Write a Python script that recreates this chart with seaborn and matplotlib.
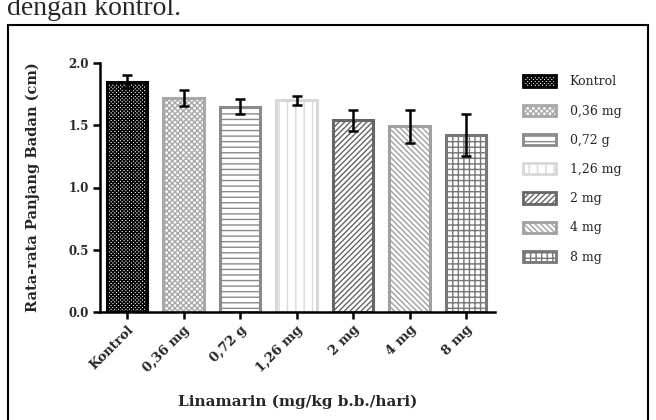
import matplotlib
matplotlib.use("Agg")
import matplotlib.pyplot as plt
from matplotlib.patches import Rectangle, Patch
import seaborn as sns
import pandas as pd

categories = ["Kontrol", "0,36 mg", "0,72 g", "1,26 mg", "2 mg", "4 mg", "8 mg"]
means = [1.85, 1.72, 1.65, 1.70, 1.54, 1.49, 1.42]
errors = [0.05, 0.065, 0.06, 0.035, 0.085, 0.135, 0.17]
y_ticks = [0.0, 0.5, 1.0, 1.5, 2.0]
y_tick_labels = ["0.0", "0.5", "1.0", "1.5", "2.0"]

edge_colors = ["#000000", "#a8a8a8", "#8a8a8a", "#d8d8d8", "#666666", "#a0a0a0", "#777777"]
hatches = ["x" * 9, "x" * 6, "---", "||", "/" * 6, "\\" * 6, "+++"]

sns.set_style("white")
plt.rcParams["font.family"] = ["DejaVu Serif", "Liberation Serif"]
plt.rcParams["hatch.linewidth"] = 1.0

W, H = 656, 420
fig = plt.figure(figsize=(W / 100, H / 100), dpi=100)

# page text above the chart box
fig.text(7 / W, 1 - 15 / H, "dengan kontrol.", fontsize=20, va="baseline", ha="left",
         family=["Liberation Serif"])

# border box
fig.patches.append(Rectangle((8 / W, -0.05), 640 / W, (H - 25) / H + 0.05,
                             transform=fig.transFigure, fill=False, lw=1.5,
                             edgecolor="black", clip_on=False))

ax_l, ax_r, ax_t, ax_b = 100, 495, 63, 312
ax = fig.add_axes([ax_l / W, (H - ax_b) / H, (ax_r - ax_l) / W, (ax_b - ax_t) / H])

df = pd.DataFrame({"cat": categories, "val": means})
sns.barplot(data=df, x="cat", y="val", ax=ax, color="white", width=0.71,
            order=categories)

for p, ec, h in zip(ax.patches, edge_colors, hatches):
    p.set_facecolor("white")
    p.set_edgecolor(ec)
    p.set_hatch(h)
    p.set_linewidth(2.2)

xs = [p.get_x() + p.get_width() / 2 for p in ax.patches]
ax.errorbar(xs, means, yerr=errors, fmt="none", ecolor="black", elinewidth=1.8,
            capsize=3.5, capthick=1.8, zorder=5)

x_left = -0.478
x_right = x_left + (ax_r - ax_l) / 56.5
ax.set_xlim(x_left, x_right)
ax.set_ylim(0, 2.0)
ax.set_yticks(y_ticks)
ax.set_yticklabels(y_tick_labels, fontsize=8.5, fontweight="bold")
ax.set_xticks(range(len(categories)))
ax.set_xticklabels(categories, rotation=45, ha="right", rotation_mode="anchor",
                   fontsize=9.5, fontweight="bold")

sns.despine(ax=ax)
for s in ["left", "bottom"]:
    ax.spines[s].set_linewidth(1.8)
    ax.spines[s].set_color("black")
ax.tick_params(axis="both", direction="out", length=5, width=1.8, color="black",
               left=True, bottom=True, pad=3)

ax.set_xlabel("Linamarin (mg/kg b.b./hari)", fontsize=11, fontweight="bold")
ax.set_ylabel("Rata-rata Panjang Badan (cm)", fontsize=10.5, fontweight="bold")
ax.xaxis.set_label_coords(0.5, -(402 - ax_b) / (ax_b - ax_t))
ax.xaxis.label.set_va("center")
ax.yaxis.set_label_coords(-(ax_l - 40) / (ax_r - ax_l), 0.5)

handles = [Patch(facecolor="white", edgecolor=ec, hatch=h, linewidth=2.0)
           for ec, h in zip(edge_colors, hatches)]
leg = fig.legend(handles, categories, loc="upper left",
                 bbox_to_anchor=(512 / W, 1 - 64 / H), frameon=False,
                 prop={"family": "DejaVu Serif", "size": 9},
                 handlelength=2.6, handleheight=1.0, labelspacing=1.3,
                 handletextpad=1.1)

fig.savefig("out.png", dpi=100)
